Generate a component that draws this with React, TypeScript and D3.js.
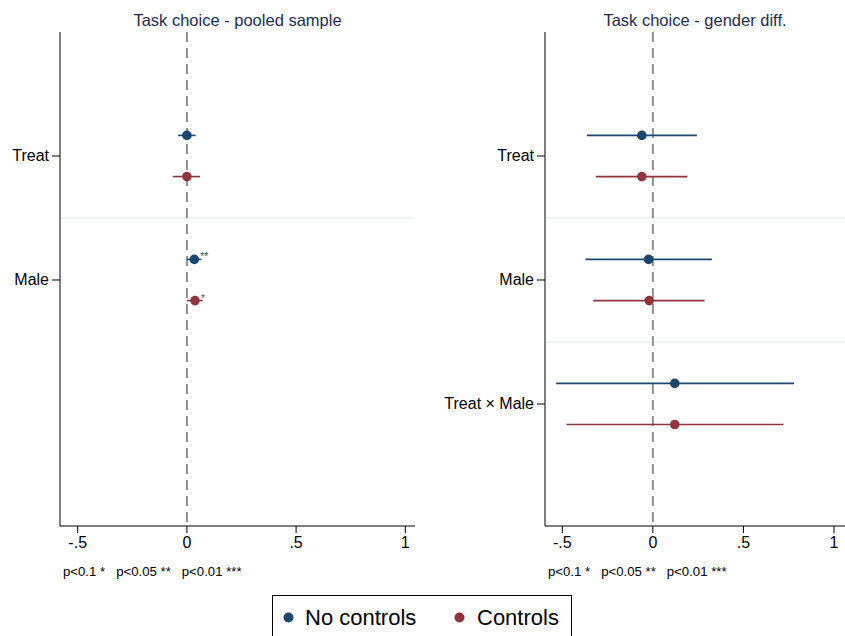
import React from "react";
import * as d3 from "d3";

const seriesNames = ["No controls", "Controls"];
const seriesColors = ["#1a476f", "#90353b"];

const pooledCats = ["Treat", "Male"];
const pooledNCcoef = [0.0, 0.034];
const pooledNClo = [-0.04, 0.0];
const pooledNChi = [0.04, 0.066];
const pooledNCstars = ["", "**"];
const pooledCcoef = [0.0, 0.037];
const pooledClo = [-0.065, 0.0];
const pooledChi = [0.06, 0.072];
const pooledCstars = ["", "*"];

const genderCats = ["Treat", "Male", "Treat × Male"];
const genderNCcoef = [-0.061, -0.024, 0.121];
const genderNClo = [-0.364, -0.372, -0.534];
const genderNChi = [0.243, 0.326, 0.78];
const genderCcoef = [-0.061, -0.02, 0.121];
const genderClo = [-0.315, -0.329, -0.477];
const genderChi = [0.191, 0.285, 0.721];

const xTicks = [-0.5, 0, 0.5, 1];
const xTickLabels = ["-.5", "0", ".5", "1"];
const noteText = "p<0.1 *   p<0.05 **   p<0.01 ***";

const FONT = "'Liberation Sans', Arial, sans-serif";

type Series = { coef: number[]; lo: number[]; hi: number[]; stars: string[] };

function Panel(props: {
  title: string;
  cats: string[];
  series: Series[];
  left: number;
  right: number;
  x0: number;
  x1: number;
}) {
  const { title, cats, series, left, right, x0, x1 } = props;
  const top = 32;
  const bottom = 526;
  const x = d3.scaleLinear().domain([-0.5, 1]).range([x0, x1]);
  const y = d3.scaleLinear().domain([0, 3.984]).range([top, bottom]);
  const offsets = [-0.166, 0.166];
  return (
    <g>
      <text x={(left + right) / 2} y={25.5} textAnchor="middle" fontSize={16.5} fill="#1f2d4d" fontFamily={FONT}>
        {title}
      </text>
      {cats.slice(0, -1).map((c, i) => (
        <line key={"sep" + i} x1={left} x2={right} y1={y(i + 1.5)} y2={y(i + 1.5)} stroke="#e8eff0" strokeWidth={1.5} />
      ))}
      <line x1={x(0)} x2={x(0)} y1={top} y2={bottom} stroke="#8f8f8f" strokeWidth={2} strokeDasharray="10,6" />
      {series.map((s, si) =>
        cats.map((c, i) => {
          const yp = y(i + 1 + offsets[si]);
          return (
            <g key={si + "-" + i}>
              <line x1={x(s.lo[i])} x2={x(s.hi[i])} y1={yp} y2={yp} stroke={seriesColors[si]} strokeWidth={1.6} />
              <circle cx={x(s.coef[i])} cy={yp} r={4.8} fill={seriesColors[si]} />
              {s.stars[i] ? (
                <text x={x(s.coef[i]) + 6} y={yp + 1} fontSize={10} fill={seriesColors[si]} fontFamily={FONT}>
                  {s.stars[i]}
                </text>
              ) : null}
            </g>
          );
        })
      )}
      <line x1={left} x2={left} y1={top} y2={bottom} stroke="#000" strokeWidth={1} />
      <line x1={left} x2={right} y1={bottom} y2={bottom} stroke="#000" strokeWidth={1} />
      {cats.map((c, i) => (
        <g key={"yt" + i}>
          <line x1={left - 8} x2={left} y1={y(i + 1)} y2={y(i + 1)} stroke="#000" />
          <text x={left - 11} y={y(i + 1) + 5.5} textAnchor="end" fontSize={16} fill="#000" fontFamily={FONT}>
            {c}
          </text>
        </g>
      ))}
      {xTicks.map((t, i) => (
        <g key={"xt" + i}>
          <line x1={x(t)} x2={x(t)} y1={bottom} y2={bottom + 7} stroke="#000" />
          <text x={x(t)} y={bottom + 22} textAnchor="middle" fontSize={16} fill="#000" fontFamily={FONT}>
            {xTickLabels[i]}
          </text>
        </g>
      ))}
      <text x={left + 3} y={576} fontSize={13.2} fill="#000" fontFamily={FONT} style={{ whiteSpace: "pre" }}>
        {noteText}
      </text>
    </g>
  );
}

export default function App() {
  const pooled: Series[] = [
    { coef: pooledNCcoef, lo: pooledNClo, hi: pooledNChi, stars: pooledNCstars },
    { coef: pooledCcoef, lo: pooledClo, hi: pooledChi, stars: pooledCstars },
  ];
  const gender: Series[] = [
    { coef: genderNCcoef, lo: genderNClo, hi: genderNChi, stars: ["", "", ""] },
    { coef: genderCcoef, lo: genderClo, hi: genderChi, stars: ["", "", ""] },
  ];
  return (
    <svg width={845} height={636} style={{ position: "absolute", left: 0, top: 0, background: "#fff" }}>
      <rect x={0} y={0} width={845} height={636} fill="#fff" />
      <Panel title="Task choice - pooled sample" cats={pooledCats} series={pooled} left={60} right={415} x0={77.7} x1={405.3} />
      <Panel title="Task choice - gender diff." cats={genderCats} series={gender} left={545} right={845} x0={562.3} x1={834} />
      <rect x={272.5} y={595.5} width={299} height={50} fill="#fff" stroke="#000" strokeWidth={1} />
      <circle cx={288.5} cy={617.5} r={5} fill={seriesColors[0]} />
      <text x={305} y={625} fontSize={22} fill="#000" fontFamily={FONT}>{seriesNames[0]}</text>
      <circle cx={459.5} cy={617.5} r={5} fill={seriesColors[1]} />
      <text x={477} y={625} fontSize={22} fill="#000" fontFamily={FONT}>{seriesNames[1]}</text>
    </svg>
  );
}
